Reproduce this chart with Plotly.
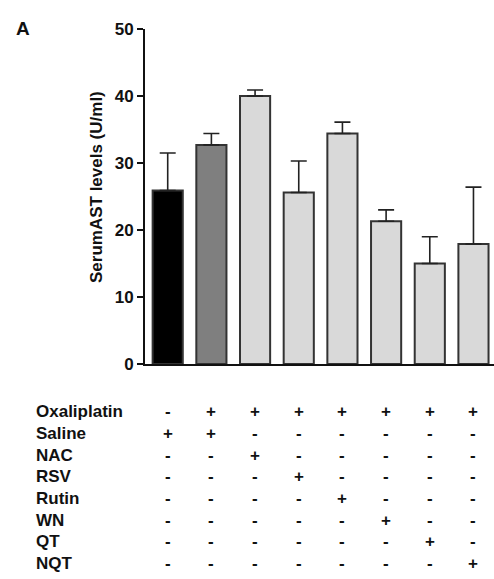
import plotly.graph_objects as go

groups = ["Saline", "Oxaliplatin", "Oxa+NAC", "Oxa+RSV", "Oxa+Rutin", "Oxa+WN", "Oxa+QT", "Oxa+NQT"]
ast_mean = [25.9, 32.7, 40.0, 25.6, 34.4, 21.3, 15.0, 17.9]
ast_sem = [5.6, 1.7, 0.9, 4.7, 1.7, 1.7, 4.0, 8.5]
bar_colors = ["#000000", "#7f7f7f", "#d9d9d9", "#d9d9d9", "#d9d9d9", "#d9d9d9", "#d9d9d9", "#d9d9d9"]

row_labels = ["Oxaliplatin", "Saline", "NAC", "RSV", "Rutin", "WN", "QT", "NQT"]
row_signs = [
    ["-", "+", "+", "+", "+", "+", "+", "+"],
    ["+", "+", "-", "-", "-", "-", "-", "-"],
    ["-", "-", "+", "-", "-", "-", "-", "-"],
    ["-", "-", "-", "+", "-", "-", "-", "-"],
    ["-", "-", "-", "-", "+", "-", "-", "-"],
    ["-", "-", "-", "-", "-", "+", "-", "-"],
    ["-", "-", "-", "-", "-", "-", "+", "-"],
    ["-", "-", "-", "-", "-", "-", "-", "+"],
]
y_ticks = [0, 10, 20, 30, 40, 50]

FONT = "Liberation Sans"
W, H = 494, 579
ML, MR, MT, MB = 145, 0, 29, 215
plot_h = H - MT - MB
plot_w = W - ML - MR

xs = list(range(len(groups)))
fig = go.Figure()
fig.add_trace(go.Bar(
    x=xs, y=ast_mean, width=0.69,
    marker=dict(color=bar_colors, line=dict(color="#333333", width=2)),
    error_y=dict(type="data", array=ast_sem, arrayminus=[0] * len(ast_sem),
                 symmetric=False, color="#222222", thickness=1.6, width=8),
    showlegend=False,
))

ann = []
ann.append(dict(text="A", x=(23 - ML) / plot_w, y=(MT + plot_h - 28) / plot_h,
                xref="paper", yref="paper", showarrow=False,
                font=dict(family=FONT, size=19, color="#111", weight="bold"),
                xanchor="center", yanchor="middle"))
ann.append(dict(text="SerumAST levels (U/ml)", textangle=-90,
                x=(96 - ML) / plot_w, y=(MT + plot_h - 187) / plot_h,
                xref="paper", yref="paper", showarrow=False,
                font=dict(family=FONT, size=17, color="#111", weight="bold"),
                xanchor="center", yanchor="middle"))
for r, (lab, signs) in enumerate(zip(row_labels, row_signs)):
    py = 411.7 + r * 21.7
    yp = (MT + plot_h - py) / plot_h
    ann.append(dict(text=lab, x=(34 - ML) / plot_w, y=yp, xref="paper", yref="paper",
                    showarrow=False, xanchor="left", yanchor="middle",
                    font=dict(family=FONT, size=17, color="#111", weight="bold")))
    for c, s in enumerate(signs):
        ann.append(dict(text=s, x=xs[c], y=yp, xref="x", yref="paper",
                        showarrow=False, xanchor="center", yanchor="middle",
                        font=dict(family=FONT, size=17, color="#111", weight="bold")))

fig.update_layout(
    width=W, height=H,
    margin=dict(l=ML, r=MR, t=MT, b=MB, pad=0),
    paper_bgcolor="white", plot_bgcolor="white",
    annotations=ann,
    xaxis=dict(range=[-0.52, 7.47], showticklabels=False, ticks="", showgrid=False,
               zeroline=False, showline=True, linecolor="#111", linewidth=2),
    yaxis=dict(range=[0, 50], tickvals=y_ticks, ticks="outside", ticklen=6, tickwidth=2,
               tickcolor="#111", showgrid=False, zeroline=False, showline=True,
               linecolor="#111", linewidth=2,
               tickfont=dict(family=FONT, size=17, color="#111", weight="bold")),
)
fig.write_html("out.html")
